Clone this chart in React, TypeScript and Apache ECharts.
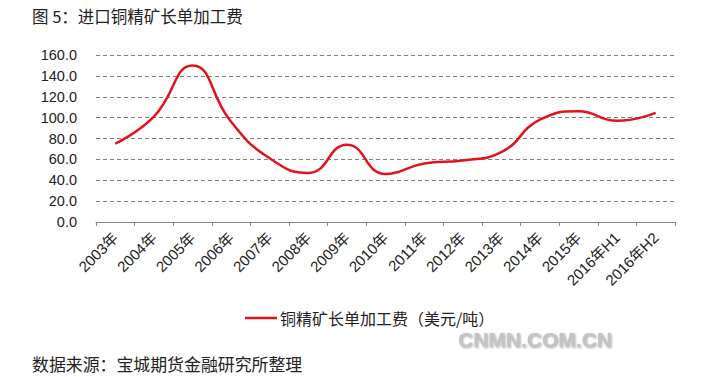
import React, { useEffect, useRef } from "react";
import * as echarts from "echarts";

const categories = [
  "2003年", "2004年", "2005年", "2006年", "2007年", "2008年", "2009年", "2010年",
  "2011年", "2012年", "2013年", "2014年", "2015年", "2016年H1", "2016年H2",
];
const tcValues = [75, 101, 150, 96, 61, 47, 74, 46, 56, 59, 67, 98, 106, 97, 104.5];
const seriesName = "铜精矿长单加工费（美元/吨）";
const titleText = "图 5：进口铜精矿长单加工费";
const sourceText = "数据来源：宝城期货金融研究所整理";
const watermarkText = "CNMN.COM.CN";

const CJK = '"Noto Sans CJK SC", "Liberation Sans", sans-serif';
const NUM = '"Liberation Sans", "Noto Sans CJK SC", sans-serif';

export default function App() {
  const ref = useRef<HTMLDivElement>(null);
  useEffect(() => {
    if (!ref.current) return;
    const chart = echarts.init(ref.current, null, { renderer: "svg" });
    chart.setOption({
      animation: false,
      backgroundColor: "#ffffff",
      grid: { left: 96, right: 37, top: 55, bottom: 155, containLabel: false },
      xAxis: {
        type: "category",
        data: categories,
        boundaryGap: true,
        axisLine: { show: true, lineStyle: { color: "#868686", width: 1 } },
        axisTick: { show: true, length: 4, lineStyle: { color: "#868686" } },
        axisLabel: {
          rotate: 45,
          margin: 13,
          color: "#222",
          fontSize: 15,
          fontFamily: NUM,
          interval: 0,
        },
      },
      yAxis: {
        type: "value",
        min: 0,
        max: 160,
        interval: 20,
        axisLine: { show: false },
        axisTick: { show: false },
        axisLabel: {
          color: "#222",
          fontSize: 14.5,
          fontFamily: NUM,
          margin: 19,
          formatter: (v: number) => v.toFixed(1),
        },
        splitLine: {
          show: true,
          lineStyle: { color: "#7f7f7f", type: [4, 3], width: 1 },
        },
      },
      legend: {
        show: true,
        left: 240,
        top: 305,
        icon: "rect",
        itemWidth: 32,
        itemHeight: 2.5,
        itemGap: 10,
        textStyle: { color: "#222", fontSize: 16, fontFamily: CJK, padding: [0, 0, 0, -2] },
        data: [seriesName],
      },
      series: [
        {
          name: seriesName,
          type: "line",
          data: tcValues,
          smooth: 0.5,
          showSymbol: false,
          symbol: "none",
          lineStyle: { color: "#e3131b", width: 2.5 },
          itemStyle: { color: "#e3131b" },
        },
      ],
      graphic: [
        {
          type: "text",
          left: 32,
          top: 8,
          style: { text: titleText, fill: "#222", fontSize: 16.5, fontFamily: CJK },
        },
        {
          type: "text",
          left: 32,
          top: 355,
          style: { text: sourceText, fill: "#222", fontSize: 16.9, fontFamily: CJK },
        },
        {
          type: "text",
          left: 458,
          top: 329,
          style: {
            text: watermarkText,
            fill: "#c4c4c4",
            fontSize: 21,
            fontWeight: "bold",
            fontFamily: NUM,
            textShadowColor: "rgba(110,110,110,0.6)",
            textShadowBlur: 2,
            textShadowOffsetX: 1,
            textShadowOffsetY: 1,
          },
        },
      ],
    });
    return () => chart.dispose();
  }, []);
  return (
    <div
      ref={ref}
      style={{ width: 712, height: 377, position: "fixed", left: 0, top: 0 }}
    />
  );
}
